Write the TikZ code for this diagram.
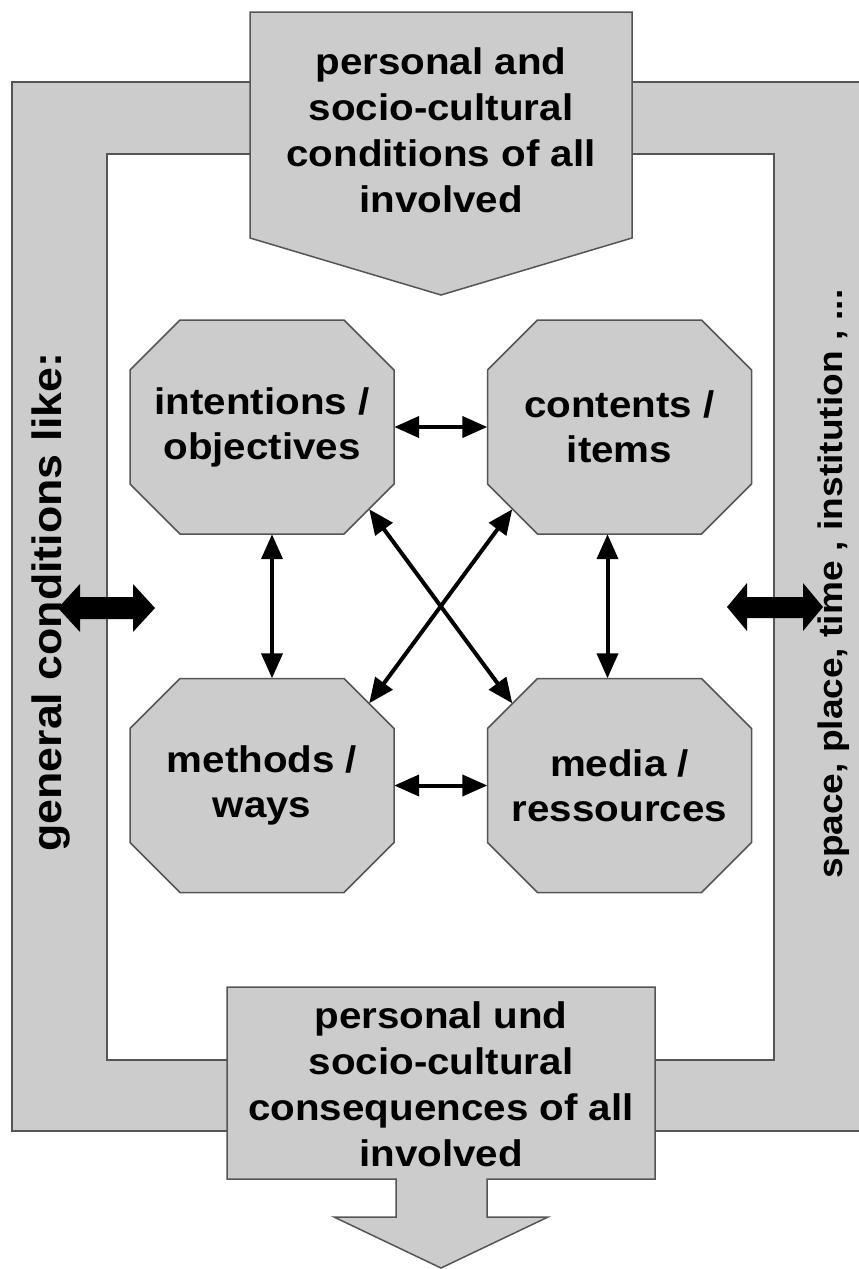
\documentclass[tikz,border=0pt]{standalone}
\usepackage{fontspec}
\setmainfont{Liberation Sans}[FakeStretch=1.09]
\usetikzlibrary{arrows.meta}
\definecolor{boxgray}{HTML}{CCCCCC}
\definecolor{edgegray}{HTML}{555555}
\tikzset{
  shapeline/.style={fill=boxgray,draw=edgegray,line width=1.5pt,line join=miter},
  octbox/.style={rectangle,minimum width=264pt,minimum height=214pt,inner sep=0pt,align=center,
    font=\fontsize{37}{45}\selectfont\bfseries},
  boxtext/.style={align=center,inner sep=0pt,font=\fontsize{37}{46}\selectfont\bfseries},
  sidetext/.style={rotate=90,inner sep=0pt,font=\bfseries},
  link/.style={line width=4pt,{Triangle[length=25pt,width=21pt]}-{Triangle[length=25pt,width=21pt]}},
  bigarrow/.style={fill=black,draw=none}
}
\begin{document}
\begin{tikzpicture}[x=1pt,y=-1pt]
\useasboundingbox (0,0) rectangle (859,1269);
\fill[white] (0,0) rectangle (859,1269);
% frame
\fill[boxgray,even odd rule] (12,82) rectangle (864,1131) (107,154) rectangle (774,1060);
\draw[edgegray,line width=1.5pt] (12,82) rectangle (864,1131);
\draw[edgegray,line width=1.5pt] (107,154) rectangle (774,1060);
% top pentagon
\draw[shapeline] (250,12) -- (632,12) -- (632,238) -- (441,295) -- (250,238) -- cycle;
\node[boxtext] (top) at (441,130) {personal and\\socio-cultural\\conditions of all\\involved};
% bottom box with arrow
\draw[shapeline] (227,987) -- (655,987) -- (655,1179) -- (487,1179) -- (487,1217) -- (548,1217)
  -- (441,1268) -- (334,1217) -- (396,1217) -- (396,1179) -- (227,1179) -- cycle;
\node[boxtext] (bottom) at (441,1084) {personal und\\socio-cultural\\consequences of all\\involved};
% octagon outlines
\foreach \x/\y in {262/427, 619.5/427, 262/785.5, 619.5/785.5}{
  \draw[shapeline] ({\x-82},{\y-107}) -- ({\x+82},{\y-107}) -- ({\x+132},{\y-57}) -- ({\x+132},{\y+57})
    -- ({\x+82},{\y+107}) -- ({\x-82},{\y+107}) -- ({\x-132},{\y+57}) -- ({\x-132},{\y-57}) -- cycle;
}
% octagon nodes
\node[octbox] (io) at (262,427) {intentions /\\objectives};
\node[octbox] (ci) at (619.5,427) {contents /\\items};
\node[octbox] (mw) at (262,785.5) {methods /\\ways};
\node[octbox] (mr) at (619.5,785.5) {media /\\ressources};
% links
\draw[link] (io.east) -- (ci.west);
\draw[link] (mw.east) -- (mr.west);
\draw[link] ([xshift=10pt]io.south) -- ([xshift=10pt]mw.north);
\draw[link] ([xshift=-12pt]ci.south) -- ([xshift=-12pt]mr.north);
\draw[link] ([shift={(-25pt,25pt)}]io.south east) -- ([shift={(25pt,-25pt)}]mr.north west);
\draw[link] ([shift={(25pt,25pt)}]ci.south west) -- ([shift={(-25pt,-25pt)}]mw.north east);
% side texts
\node[sidetext,font=\fontsize{41}{41}\selectfont\bfseries] (gen) at (51,602) {general conditions like:};
\node[sidetext,font=\fontsize{34}{34}\selectfont\bfseries] (spc) at (834,584) {space, place, time , institution , ...};
% thick double arrows
\fill[bigarrow] (58,608) -- (80,584) -- (80,597) -- (133,597) -- (133,584) -- (155,608)
  -- (133,632) -- (133,619) -- (80,619) -- (80,632) -- cycle;
\fill[bigarrow] (727,607) -- (747,583) -- (747,597) -- (803,597) -- (803,583) -- (823,607)
  -- (803,631) -- (803,618) -- (747,618) -- (747,631) -- cycle;
\end{tikzpicture}
\end{document}
